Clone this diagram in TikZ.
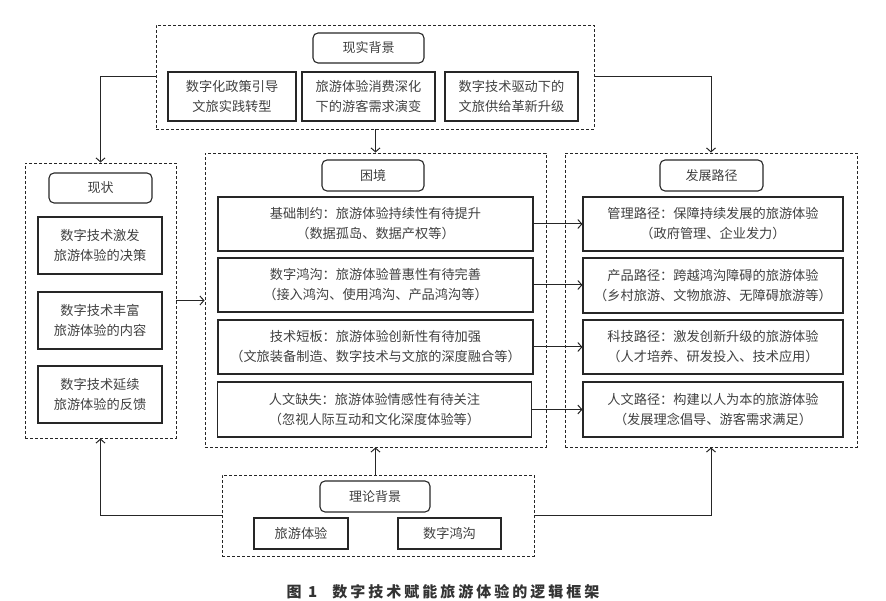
\documentclass[tikz,border=0pt]{standalone}
\usepackage{fontspec}
\newfontfamily\cjk{Noto Sans CJK SC}
\usetikzlibrary{arrows.meta}

\tikzset{
  frame/.style={draw=black!85, line width=0.9pt, dash pattern=on 3pt off 2pt, inner sep=0pt},
  titlebox/.style={draw=black!85, line width=1.1pt, rounded corners=5pt, inner sep=0pt,
    font=\cjk\fontsize{13}{18}\selectfont, text=black!75},
  itembox/.style={draw=black!85, line width=1.1pt, inner sep=0pt, align=center,
    font=\cjk\fontsize{13.2}{20}\selectfont, text=black!75},
  arr/.style={draw=black!85, line width=1pt, -{Straight Barb[length=4pt,width=9pt,line width=1pt]}},
  link/.style={draw=black!85, line width=1pt}
}

\begin{document}
\begin{tikzpicture}[x=1pt, y=-1pt]
    \useasboundingbox (0,0) rectangle (886,601);

    % --- Top: practical background ---
    \node[frame, minimum width=438pt, minimum height=104pt] (top) at (375,77) {};
    \node[titlebox, minimum width=111pt, minimum height=30pt] (topT) at (368.5,48) {现实背景};
    \node[itembox, minimum width=128pt, minimum height=49pt] (top1) at (232,96.5) {数字化政策引导\\文旅实践转型};
    \node[itembox, minimum width=133pt, minimum height=49pt] (top2) at (368.5,96.5) {旅游体验消费深化\\下的游客需求演变};
    \node[itembox, minimum width=133pt, minimum height=49pt] (top3) at (511.5,96.5) {数字技术驱动下的\\文旅供给革新升级};
    % ---

    % --- Left: status ---
    \node[frame, minimum width=151pt, minimum height=275pt] (left) at (100.5,300.5) {};
    \node[titlebox, minimum width=103pt, minimum height=30pt] (leftT) at (100.5,188) {现状};
    \node[itembox, minimum width=124pt, minimum height=57pt] (left1) at (100,245.5) {数字技术激发\\旅游体验的决策};
    \node[itembox, minimum width=124pt, minimum height=57pt] (left2) at (100,320.5) {数字技术丰富\\旅游体验的内容};
    \node[itembox, minimum width=124pt, minimum height=57pt] (left3) at (100,394.5) {数字技术延续\\旅游体验的反馈};
    % ---

    % --- Middle: dilemmas ---
    \node[frame, minimum width=341pt, minimum height=294pt] (mid) at (375.5,300) {};
    \node[titlebox, minimum width=102pt, minimum height=31pt] (midT) at (373,175.5) {困境};
    \node[itembox, minimum width=315pt, minimum height=54pt] (mid1) at (375.5,224) {基础制约：旅游体验持续性有待提升\\（数据孤岛、数据产权等）};
    \node[itembox, minimum width=315pt, minimum height=54pt] (mid2) at (375.5,285) {数字鸿沟：旅游体验普惠性有待完善\\（接入鸿沟、使用鸿沟、产品鸿沟等）};
    \node[itembox, minimum width=315pt, minimum height=54pt] (mid3) at (375.5,347) {技术短板：旅游体验创新性有待加强\\（文旅装备制造、数字技术与文旅的深度融合等）};
    \node[itembox, minimum width=314pt, minimum height=55pt] (mid4) at (374.5,409.5) {人文缺失：旅游体验情感性有待关注\\（忽视人际互动和文化深度体验等）};
    % ---

    % --- Right: development paths ---
    \node[frame, minimum width=292pt, minimum height=294pt] (right) at (711,300) {};
    \node[titlebox, minimum width=103pt, minimum height=31pt] (rightT) at (711.5,175.5) {发展路径};
    \node[itembox, minimum width=260pt, minimum height=54pt] (right1) at (713,224) {管理路径：保障持续发展的旅游体验\\（政府管理、企业发力）};
    \node[itembox, minimum width=260pt, minimum height=55pt] (right2) at (713,285.5) {产品路径：跨越鸿沟障碍的旅游体验\\（乡村旅游、文物旅游、无障碍旅游等）};
    \node[itembox, minimum width=260pt, minimum height=54pt] (right3) at (713,347) {科技路径：激发创新升级的旅游体验\\（人才培养、研发投入、技术应用）};
    \node[itembox, minimum width=260pt, minimum height=55pt] (right4) at (713,409.5) {人文路径：构建以人为本的旅游体验\\（发展理念倡导、游客需求满足）};
    % ---

    % --- Bottom: theoretical background ---
    \node[frame, minimum width=312pt, minimum height=81pt] (bot) at (378,515.5) {};
    \node[titlebox, minimum width=110pt, minimum height=31pt] (botT) at (375,496.5) {理论背景};
    \node[itembox, minimum width=94pt, minimum height=31pt] (bot1) at (301,533.5) {旅游体验};
    \node[itembox, minimum width=103pt, minimum height=31pt] (bot2) at (449.5,533.5) {数字鸿沟};
    % ---

    % --- Connectors ---
    \draw[arr] (top.south -| mid.north) -- (mid.north);
    \draw[arr] (top.west) -| (left.north);
    \draw[arr] (top.east) -| (right.north);
    \draw[arr] (left.east) -- (left.east -| mid.west);
    \foreach \i in {1,...,4}
        \draw[arr] (mid\i.east) -- (mid\i.east -| right\i.west);
    \draw[arr] (bot.north -| mid.south) -- (mid.south);
    \draw[arr] (bot.west) -| (left.south);
    \draw[arr] (bot.east) -| (right.south);
    % ---

    % --- Caption ---
    \node[font=\cjk\bfseries\fontsize{15}{18}\selectfont\addfontfeatures{LetterSpace=20}, text=black!80] (caption) at (443,592) {图 1\quad 数字技术赋能旅游体验的逻辑框架};
    % ---
\end{tikzpicture}
\end{document}
